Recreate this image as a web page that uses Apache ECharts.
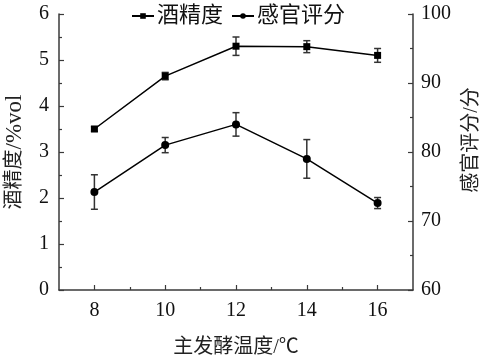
<!DOCTYPE html>
<html><head><meta charset="utf-8">
<script src="https://cdn.jsdelivr.net/npm/echarts@6/dist/echarts.min.js"></script>
<style>html,body{margin:0;padding:0;background:#fff}#c{width:483px;height:364px}</style>
</head><body><div id="c"></div>
<script>
const temps = [8, 10, 12, 14, 16];
const alcohol = [3.5, 4.65, 5.3, 5.29, 5.1];
const alcoholErr = [0.05, 0.08, 0.2, 0.13, 0.15];
const sensory = [74.2, 81.0, 84.0, 79.0, 72.6];
const sensoryErr = [2.5, 1.1, 1.7, 2.8, 0.8];
const xMajor = [8, 10, 12, 14, 16];
const xMinor = [9, 11, 13, 15];
const names = ['酒精度', '感官评分'];

const FONT = "'Liberation Serif', 'Noto Sans CJK SC', serif";
const AX = '#3a3a3a';

function errSeries(vals, errs, yIdx) {
  return {
    type: 'custom', xAxisIndex: 0, yAxisIndex: yIdx, silent: true, z: 1,
    data: temps.map((t, i) => [t, vals[i] - errs[i], vals[i] + errs[i]]),
    renderItem: function (params, api) {
      const lo = api.coord([api.value(0), api.value(1)]);
      const hi = api.coord([api.value(0), api.value(2)]);
      const w = 3.5;
      const st = { stroke: '#333', lineWidth: 1.5 };
      return { type: 'group', children: [
        { type: 'line', shape: { x1: lo[0], y1: lo[1], x2: hi[0], y2: hi[1] }, style: st },
        { type: 'line', shape: { x1: lo[0] - w, y1: lo[1], x2: lo[0] + w, y2: lo[1] }, style: st },
        { type: 'line', shape: { x1: hi[0] - w, y1: hi[1], x2: hi[0] + w, y2: hi[1] }, style: st }
      ]};
    }
  };
}

const chart = echarts.init(document.getElementById('c'), null, { renderer: 'canvas' });
chart.setOption({
  animation: false,
  textStyle: { fontFamily: FONT },
  grid: { left: 59, right: 70, top: 14, bottom: 74, containLabel: false, outerBoundsMode: 'none' },
  legend: {
    top: 0, left: 126, itemWidth: 22, itemHeight: 7, itemGap: 8,
    textStyle: { fontSize: 22, color: '#111', fontFamily: FONT, padding: [0, 0, 0, -2] },
    data: names
  },
  xAxis: [{
    type: 'value', min: 7, max: 17, interval: 1,
    name: '主发酵温度/℃', nameLocation: 'middle', nameGap: 48,
    nameTextStyle: { fontSize: 20, color: '#222', fontFamily: FONT },
    axisLine: { show: true, lineStyle: { color: AX, width: 1.5 } },
    axisTick: { show: true, inside: true, length: 5, customValues: xMajor, lineStyle: { color: AX, width: 1.2 } },
    axisLabel: { customValues: xMajor, fontSize: 20, color: '#111', margin: 11, fontFamily: FONT },
    splitLine: { show: false }
  }, {
    type: 'value', min: 7, max: 17, interval: 1, position: 'bottom',
    axisLine: { show: false },
    axisTick: { show: true, inside: true, length: 3, customValues: xMinor, lineStyle: { color: AX, width: 1.2 } },
    axisLabel: { show: false },
    splitLine: { show: false }
  }],
  yAxis: [{
    type: 'value', min: 0, max: 6, interval: 1,
    name: '{a|酒精度}{b|/%vol}', nameLocation: 'middle', nameGap: 33, nameRotate: 90,
    nameTextStyle: { fontSize: 20, color: '#222', fontFamily: FONT,
      rich: { a: { fontSize: 20, fontFamily: FONT, color: '#222' }, b: { fontSize: 23, fontFamily: FONT, color: '#222' } } },
    axisLine: { show: true, lineStyle: { color: AX, width: 1.5 } },
    axisTick: { show: true, inside: true, length: 5, lineStyle: { color: AX, width: 1.2 } },
    minorTick: { show: true, splitNumber: 2, length: 3, lineStyle: { color: AX, width: 1.2 } },
    axisLabel: { fontSize: 20, color: '#111', margin: 10, fontFamily: FONT },
    splitLine: { show: false }
  }, {
    type: 'value', min: 60, max: 100, interval: 10, position: 'right',
    name: '感官评分/分', nameLocation: 'middle', nameGap: 46, nameRotate: 90,
    nameTextStyle: { fontSize: 20, color: '#222', fontFamily: FONT, padding: [0, 0, 0, 24] },
    axisLine: { show: true, lineStyle: { color: AX, width: 1.5 } },
    axisTick: { show: true, inside: true, length: 5, lineStyle: { color: AX, width: 1.2 } },
    minorTick: { show: true, splitNumber: 2, length: 3, lineStyle: { color: AX, width: 1.2 } },
    axisLabel: { fontSize: 20, color: '#111', margin: 8, fontFamily: FONT },
    splitLine: { show: false }
  }],
  series: [
    errSeries(alcohol, alcoholErr, 0),
    errSeries(sensory, sensoryErr, 1),
    {
      name: names[0], type: 'line', xAxisIndex: 0, yAxisIndex: 0, z: 3,
      data: temps.map((t, i) => [t, alcohol[i]]),
      symbol: 'rect', symbolSize: 7,
      lineStyle: { color: '#000', width: 1.5 }, itemStyle: { color: '#000' }
    },
    {
      name: names[1], type: 'line', xAxisIndex: 0, yAxisIndex: 1, z: 3,
      data: temps.map((t, i) => [t, sensory[i]]),
      symbol: 'circle', symbolSize: 8,
      lineStyle: { color: '#000', width: 1.5 }, itemStyle: { color: '#000' }
    }
  ]
});
</script></body></html>
